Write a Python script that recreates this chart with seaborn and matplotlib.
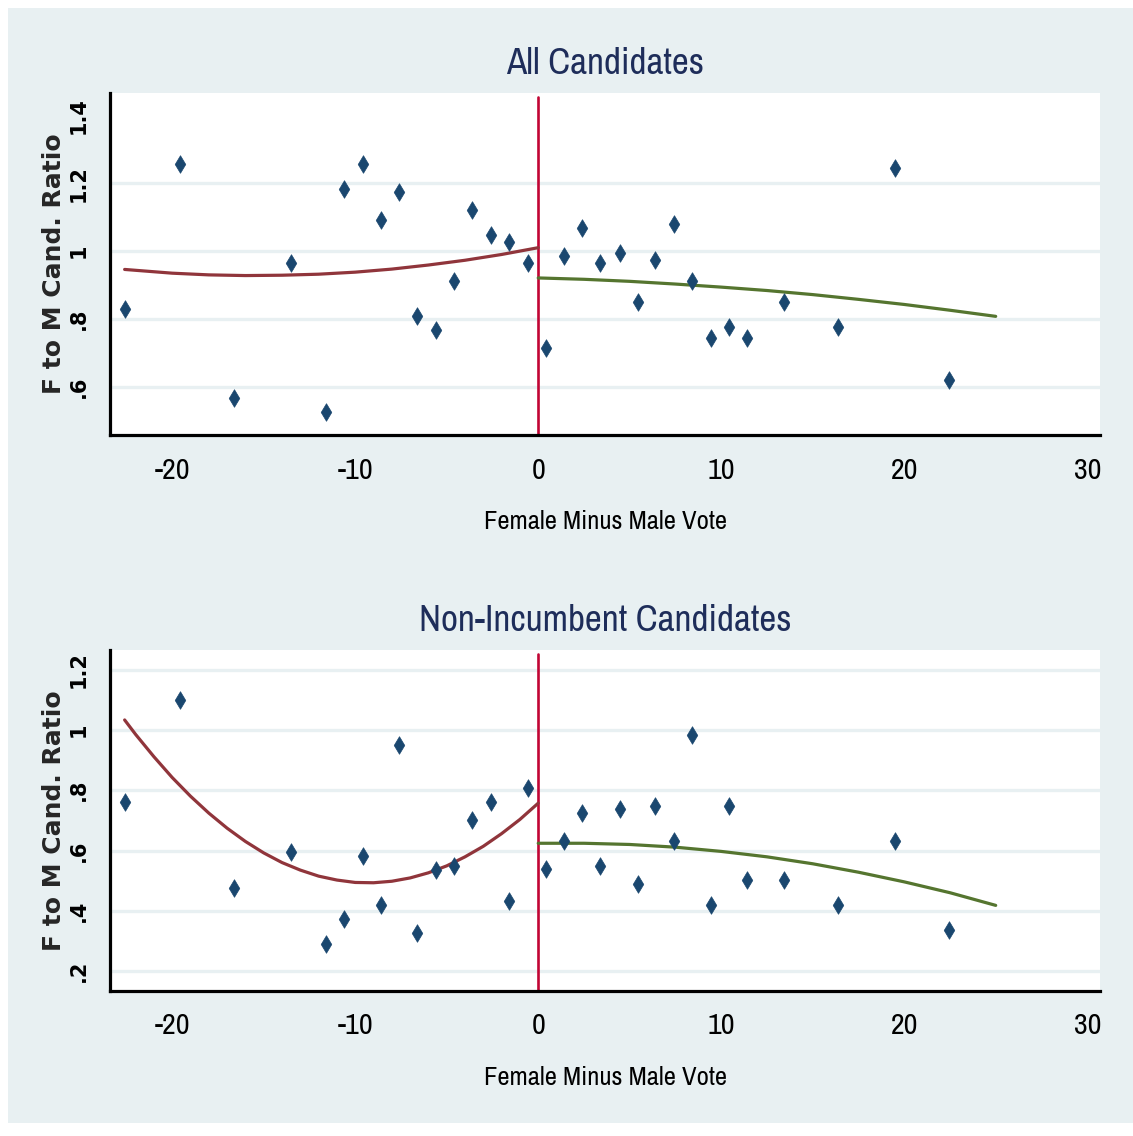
import numpy as np
import pandas as pd
import matplotlib
matplotlib.use("Agg")
import matplotlib.pyplot as plt
import seaborn as sns
from matplotlib import font_manager as fm
from matplotlib.patches import Rectangle
from matplotlib.textpath import TextPath

# Female-minus-male vote gap (shared by both panels)
vote_gap = [-22.6, -19.6, -16.6, -13.5, -11.6, -10.6, -9.55, -8.6, -7.6, -6.6,
            -5.6, -4.6, -3.6, -2.6, -1.6, -0.55, 0.45, 1.4, 2.4, 3.4,
            4.45, 5.45, 6.4, 7.4, 8.4, 9.45, 10.4, 11.4, 13.45, 16.4,
            19.5, 22.45]

# Female-to-male candidate ratio, all candidates
ratio_all = [0.829, 1.256, 0.567, 0.965, 0.526, 1.184, 1.256, 1.090, 1.173, 0.809,
             0.767, 0.912, 1.121, 1.047, 1.026, 0.965, 0.714, 0.985, 1.069, 0.965,
             0.995, 0.851, 0.974, 1.079, 0.912, 0.745, 0.776, 0.745, 0.851, 0.776,
             1.245, 0.620]

# Female-to-male candidate ratio, non-incumbent candidates
ratio_nonincumbent = [0.760, 1.100, 0.477, 0.595, 0.290, 0.372, 0.583, 0.419, 0.949, 0.326,
                      0.536, 0.549, 0.701, 0.760, 0.431, 0.807, 0.537, 0.632, 0.725, 0.549,
                      0.737, 0.489, 0.749, 0.632, 0.983, 0.420, 0.749, 0.501, 0.501, 0.420,
                      0.632, 0.337]

# Quadratic fit curves on each side of zero
fit_all_left_x = [-22.6, -20, -18, -16, -14, -12, -10, -8, -6, -4, -2, 0]
fit_all_left_y = [0.946, 0.935, 0.930, 0.928, 0.929, 0.932, 0.938, 0.947,
                  0.959, 0.973, 0.990, 1.010]
fit_all_right_x = [0, 2.5, 5, 7.5, 10, 12.5, 15, 17.5, 20, 22.5, 25]
fit_all_right_y = [0.921, 0.917, 0.911, 0.903, 0.894, 0.884, 0.872, 0.858,
                   0.843, 0.826, 0.808]

fit_ni_left_x = [-22.6, -22, -21, -20, -19, -18, -17, -16, -15, -14, -13, -12,
                 -11, -10, -9, -8, -7, -6, -5, -4, -3, -2, -1, 0]
fit_ni_left_y = [1.033, 0.985, 0.911, 0.842, 0.780, 0.724, 0.674, 0.630, 0.592,
                 0.560, 0.535, 0.515, 0.502, 0.494, 0.493, 0.498, 0.509, 0.526,
                 0.549, 0.579, 0.614, 0.656, 0.703, 0.757]
fit_ni_right_x = [0, 2.5, 5, 7.5, 10, 12.5, 15, 17.5, 20, 22.5, 25]
fit_ni_right_y = [0.624, 0.624, 0.620, 0.611, 0.597, 0.579, 0.556, 0.528,
                  0.496, 0.460, 0.418]

x_ticks = [-20, -10, 0, 10, 20, 30]
x_tick_labels = ["-20", "-10", "0", "10", "20", "30"]
y_ticks_all = [0.6, 0.8, 1.0, 1.2, 1.4]
y_tick_labels_all = [".6", ".8", "1", "1.2", "1.4"]
y_ticks_noninc = [0.2, 0.4, 0.6, 0.8, 1.0, 1.2]
y_tick_labels_noninc = [".2", ".4", ".6", ".8", "1", "1.2"]

titles = ["All Candidates", "Non-Incumbent Candidates"]
x_label = "Female Minus Male Vote"
y_label = "F to M Cand. Ratio"

# Colours (Stata s2color look)
BG = "#e8f0f2"
NAVY = "#1a476f"
MAROON = "#90353b"
GREEN = "#55752f"
CRANBERRY = "#c10534"
TITLE_C = "#1e2d5a"

sns.set_theme(style="white")
plt.rcParams["font.family"] = ["DejaVu Sans"]

W, H, DPI = 1133, 1136, 100


def narrow_font():
    """Pick a regular-weight condensed sans face if one is installed."""
    rank = {"extra-condensed": 1, "condensed": 0, "semi-condensed": 2,
            "ultra-condensed": 3}
    best = None
    for f in fm.fontManager.ttflist:
        if f.style != "normal" or f.weight not in (400, "normal", "regular", "book"):
            continue
        narrowish = f.stretch in rank or "Narrow" in f.name or "Condensed" in f.name
        if not narrowish:
            continue
        key = (0 if "Narrow" in f.name else 1, rank.get(f.stretch, 0), f.name)
        if best is None or key < best[0]:
            best = (key, f.fname)
    if best is None:
        return fm.FontProperties(family="DejaVu Sans", stretch="condensed")
    return fm.FontProperties(fname=best[1])


NARROW = narrow_font()


def fit_size(text, prop, target_px, max_pt):
    """Font size (pt) that makes `text` about target_px wide."""
    ext = TextPath((0, 0), text, size=10, prop=prop).get_extents()
    size = 10 * target_px * 72 / (ext.width * DPI)
    return min(size, max_pt)


title_pt = min(fit_size(titles[0], NARROW, 200, 32),
               fit_size(titles[1], NARROW, 368, 32))
xlabel_pt = fit_size(x_label, NARROW, 240, 23)
xtick_pt = fit_size("-20", NARROW, 34, 23)

fig = plt.figure(figsize=(W / DPI, H / DPI), dpi=DPI, facecolor="white")
fig.patches.append(Rectangle((8 / W, 1 - 1123 / H), 1 - 8 / W, (1123 - 8) / H,
                             transform=fig.transFigure, facecolor=BG,
                             edgecolor="none", zorder=-10))


def panel(top_px, bottom_px, ratio, fits, yticks, yticklabels, ylim, title,
          hide_top_grid):
    rect = [110 / W, 1 - bottom_px / H, 990 / W, (bottom_px - top_px) / H]
    ax = fig.add_axes(rect)
    ax.set_facecolor("white")
    df = pd.DataFrame({"gap": vote_gap, "ratio": ratio})
    (lx, ly), (rx, ry) = fits
    left_fit = pd.DataFrame({"x": lx, "y": ly})
    right_fit = pd.DataFrame({"x": rx, "y": ry})

    ax.axvline(0, ymax=1 - 4 / (bottom_px - top_px), color=CRANBERRY,
               lw=1.9, zorder=2)
    sns.lineplot(data=left_fit, x="x", y="y", ax=ax, color=MAROON, lw=2.3,
                 estimator=None, sort=False, zorder=3)
    sns.lineplot(data=right_fit, x="x", y="y", ax=ax, color=GREEN, lw=2.3,
                 estimator=None, sort=False, zorder=3)
    sns.scatterplot(data=df, x="gap", y="ratio", ax=ax, marker="d", s=80,
                    color=NAVY, edgecolor=NAVY, linewidth=0.5, zorder=4,
                    legend=False)

    ax.set_xlim(-23.4, 30.7)
    ax.set_ylim(*ylim)
    ax.set_xticks(x_ticks)
    ax.set_xticklabels(x_tick_labels, fontproperties=NARROW)
    for t in ax.get_xticklabels():
        t.set_fontsize(xtick_pt)
    ax.set_yticks(yticks)
    ax.set_yticklabels(yticklabels, rotation=90, va="center",
                       fontsize=15, fontweight="bold")

    ax.yaxis.grid(True, color=BG, lw=2.4)
    ax.xaxis.grid(False)
    ax.set_axisbelow(True)
    if hide_top_grid:
        ax.get_ygridlines()[-1].set_visible(False)

    for s in ["top", "right"]:
        ax.spines[s].set_visible(False)
    for s in ["left", "bottom"]:
        ax.spines[s].set_color("black")
        ax.spines[s].set_linewidth(2.3)
    ax.tick_params(axis="both", direction="out", length=4.5, width=1.6,
                   color="black", labelcolor="black")
    ax.tick_params(axis="x", pad=11)
    ax.tick_params(axis="y", pad=11)

    ax.set_xlabel("")
    ax.set_ylabel(y_label, fontsize=18, fontweight="bold", labelpad=2)

    # title and x-axis label placed by their baselines
    tp = NARROW.copy()
    tp.set_size(title_pt)
    fig.text(605 / W, 1 - (top_px - 19) / H, title, fontproperties=tp,
             color=TITLE_C, ha="center", va="baseline")
    xp = NARROW.copy()
    xp.set_size(xlabel_pt)
    fig.text(605 / W, 1 - (bottom_px + 94) / H, x_label, fontproperties=xp,
             color="black", ha="center", va="baseline")
    return ax


panel(93, 435, ratio_all,
      ((fit_all_left_x, fit_all_left_y), (fit_all_right_x, fit_all_right_y)),
      y_ticks_all, y_tick_labels_all, (0.459, 1.465), titles[0], True)
panel(650, 990.7, ratio_nonincumbent,
      ((fit_ni_left_x, fit_ni_left_y), (fit_ni_right_x, fit_ni_right_y)),
      y_ticks_noninc, y_tick_labels_noninc, (0.135, 1.265), titles[1], False)

fig.savefig("out.png", dpi=DPI, facecolor="white")
